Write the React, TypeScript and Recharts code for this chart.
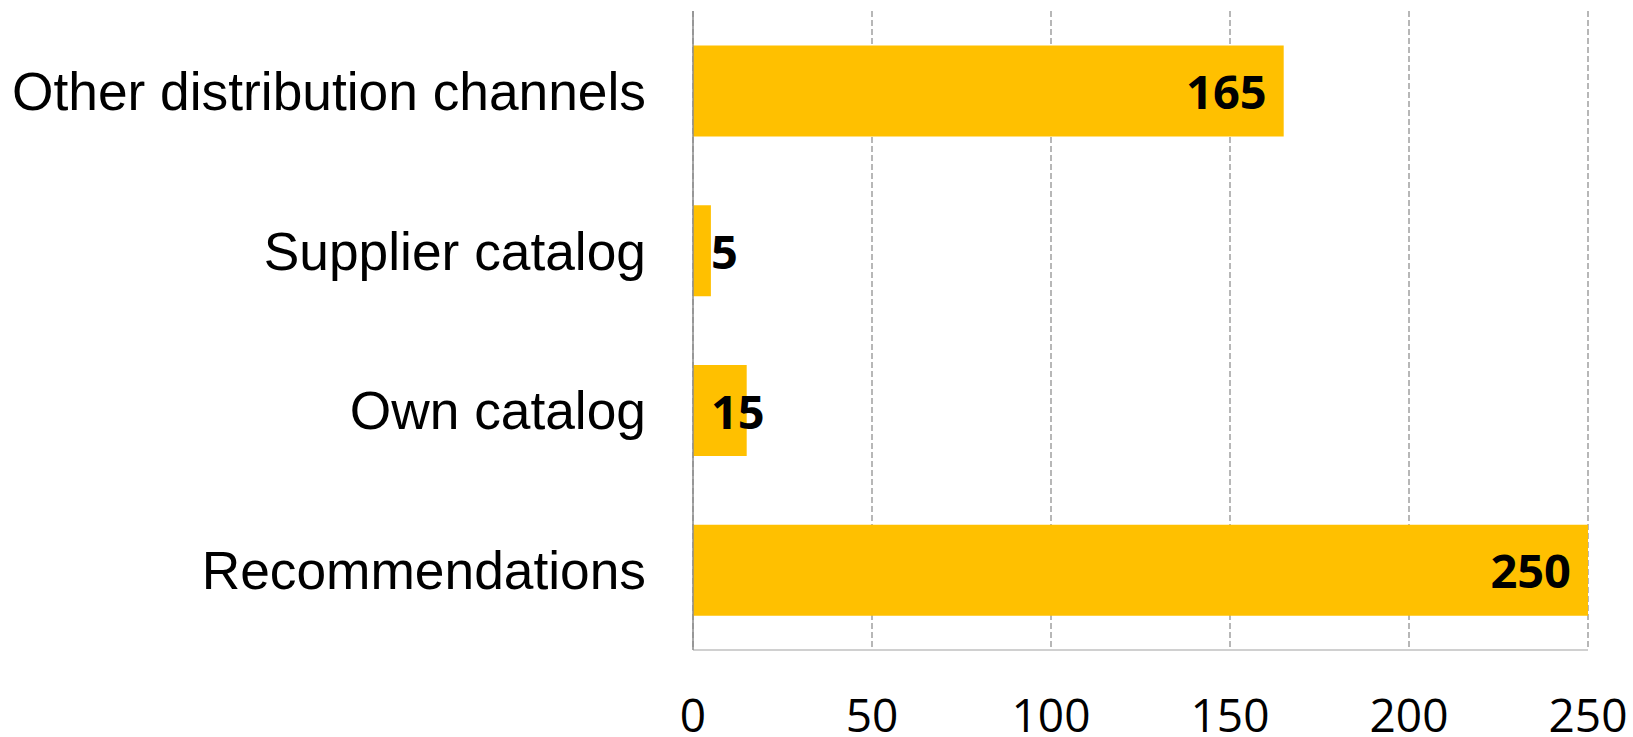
import React from "react";
import {
  BarChart,
  Bar,
  XAxis,
  YAxis,
  CartesianGrid,
  LabelList,
} from "recharts";

/* data */
const channels = [
  "Other distribution channels",
  "Supplier catalog",
  "Own catalog",
  "Recommendations",
];
const counts = [165, 5, 15, 250];
const xTicks = [0, 50, 100, 150, 200, 250];

const chartData = channels.map((name, i) => ({ name, value: counts[i] }));

const BAR = "#FFC000";
const LABEL_FONT = "'Open Sans', sans-serif";

// Excel-style "inside end" label: right-aligned in the bar, but never
// starts before the bar's left edge + padding (short bars overflow).
const ValueLabel = (props: any) => {
  const { x, y, width, height, value } = props;
  const fontSize = 47;
  const textW = String(value).length * 0.572 * fontSize;
  const pad = 18;
  const fits = width >= textW + pad * 2;
  const tx = fits ? x + width - 17 : x + pad;
  return (
    <text
      x={tx}
      y={y + height / 2}
      textAnchor={fits ? "end" : "start"}
      dominantBaseline="central"
      fill="#000"
      fontFamily={LABEL_FONT}
      fontWeight={700}
      fontSize={fontSize}
    >
      {value}
    </text>
  );
};

export default function App() {
  return (
    <div
      style={{
        position: "fixed",
        left: 0,
        top: 0,
        width: 1633,
        height: 737,
        background: "#fff",
      }}
    >
      <BarChart
        width={1633}
        height={737}
        data={chartData}
        layout="vertical"
        margin={{ top: 11, right: 45, left: 0, bottom: 0 }}
        barCategoryGap="21.6%"
      >
        <CartesianGrid
          horizontal={false}
          stroke="#a0a0a0"
          strokeWidth={1.5}
          strokeDasharray="6 3"
        />
        <XAxis
          type="number"
          domain={[0, 250]}
          ticks={xTicks}
          height={87}
          interval={0}
          tickSize={0}
          tickMargin={49}
          axisLine={{ stroke: "#c0c0c0", strokeWidth: 1.5 }}
          tickLine={false}
          tick={{ fill: "#000", fontSize: 46, fontFamily: LABEL_FONT }}
        />
        <YAxis
          type="category"
          dataKey="name"
          width={693}
          tickSize={0}
          tickMargin={47}
          axisLine={{ stroke: "#8c8c8c", strokeWidth: 1.5 }}
          tickLine={false}
          tick={{
            fill: "#000",
            fontSize: 53.3,
            fontFamily: "'Liberation Sans', Arial, sans-serif",
          }}
        />
        <Bar dataKey="value" fill={BAR} isAnimationActive={false}>
          <LabelList dataKey="value" content={ValueLabel} />
        </Bar>
      </BarChart>
    </div>
  );
}
